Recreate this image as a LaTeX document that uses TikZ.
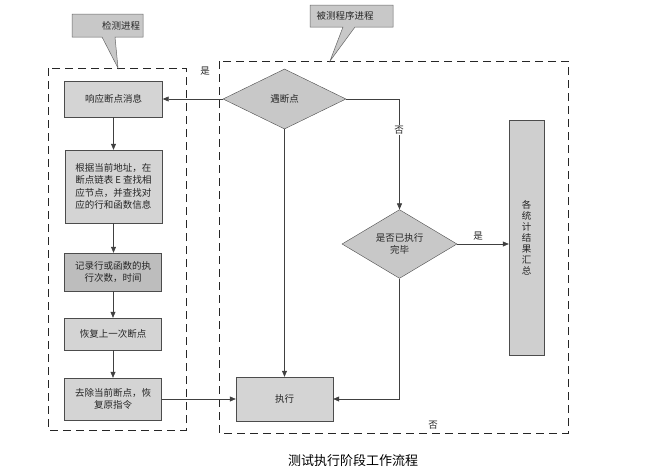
\documentclass[tikz,border=0pt]{standalone}
\usepackage{fontspec}
\setmainfont{Noto Sans CJK SC}
\usetikzlibrary{shapes.geometric,arrows.meta}
\definecolor{boxgray}{HTML}{D4D4D4}
\definecolor{darkbox}{HTML}{BDBDBD}
\definecolor{dgray}{HTML}{C8C8C8}
\definecolor{sumgray}{HTML}{CFCFCF}
\definecolor{linec}{HTML}{404040}
\tikzset{
  base/.style={font=\fontsize{9.5}{12.5}\selectfont, text=black!85},
  procbox/.style={base, draw=black!70, fill=boxgray, rectangle, inner sep=2pt, align=center},
  decision/.style={base, draw=black!70, fill=dgray, diamond, inner sep=0pt, align=center},
  conn/.style={draw=linec, line width=0.6pt, -{Triangle[length=6pt,width=5pt]}},
  dashbox/.style={draw=black!85, line width=0.9pt, dash pattern=on 8pt off 5pt},
  callout/.style={draw=black!60, fill=dgray, line width=0.5pt},
  lbl/.style={base, inner sep=1pt}
}
\begin{document}
\begin{tikzpicture}[x=1pt,y=-1pt]
\useasboundingbox (0,0) rectangle (666,474);
% dashed process regions
\draw[dashbox] (48,68) rectangle (186,430);
\draw[dashbox] (219,61) rectangle (568,433);
% callouts
\draw[callout] (72,14) -- (143,14) -- (143,37) -- (115,37) -- (118,68) -- (102,37) -- (72,37) -- cycle;
\node[lbl] (c1) at (121,26) {检测进程};
\draw[callout] (310,5) -- (393,5) -- (393,27) -- (355,27) -- (330,61) -- (343,27) -- (310,27) -- cycle;
\node[lbl] (c2) at (345,16) {被测程序进程};
% left column
\node[procbox, minimum width=98pt, minimum height=36pt] (resp) at (113.5,99) {响应断点消息};
\node[procbox, minimum width=97pt, minimum height=73pt, align=left] (find) at (113.5,186.5) {根据当前地址，在\\断点链表 E 查找相\\应节点，并查找对\\应的行和函数信息};
\node[procbox, fill=darkbox, minimum width=97pt, minimum height=38pt] (rec) at (113,272) {记录行或函数的执\\行次数，时间};
\node[procbox, minimum width=97pt, minimum height=32pt] (restore) at (113,334) {恢复上一次断点};
\node[procbox, minimum width=97pt, minimum height=42pt] (remove) at (113,399) {去除当前断点，恢\\复原指令};
% right part
\node[decision, minimum width=123pt, minimum height=60pt] (d1) at (284.5,99) {遇断点};
\node[procbox, minimum width=97pt, minimum height=44pt] (exec) at (284.5,399) {执行};
\node[decision, minimum width=115pt, minimum height=66pt] (d2) at (399.5,244) {是否已执行\\完毕};
\node[procbox, fill=sumgray, minimum width=35pt, minimum height=235pt, font=\fontsize{9.5}{11}\selectfont] (sum) at (526.5,237.5) {各\\统\\计\\结\\果\\汇\\总};
% connectors
\draw[conn] (d1.west) -- (resp.east);
\draw[conn] (resp.south) -- (resp.south |- find.north);
\draw[conn] (find.south) -- (find.south |- rec.north);
\draw[conn] (rec.south) -- (rec.south |- restore.north);
\draw[conn] (restore.south) -- (restore.south |- remove.north);
\draw[conn] (remove.east) -- (exec.west);
\draw[conn] (d1.south) -- (exec.north);
\draw[conn] (d1.east) -| (d2.north);
\draw[conn] (d2.east) -- (d2.east -| sum.west);
\draw[conn] (d2.south) |- (exec.east);
% labels
\node[lbl] (yes1) at (205,71) {是};
\node[lbl, fill=white] (no1) at (399,130) {否};
\node[lbl] (yes2) at (478,236) {是};
\node[lbl] (no2) at (433,425) {否};
\node[font=\fontsize{13}{15}\selectfont] (title) at (353,461) {测试执行阶段工作流程};
\end{tikzpicture}
\end{document}
